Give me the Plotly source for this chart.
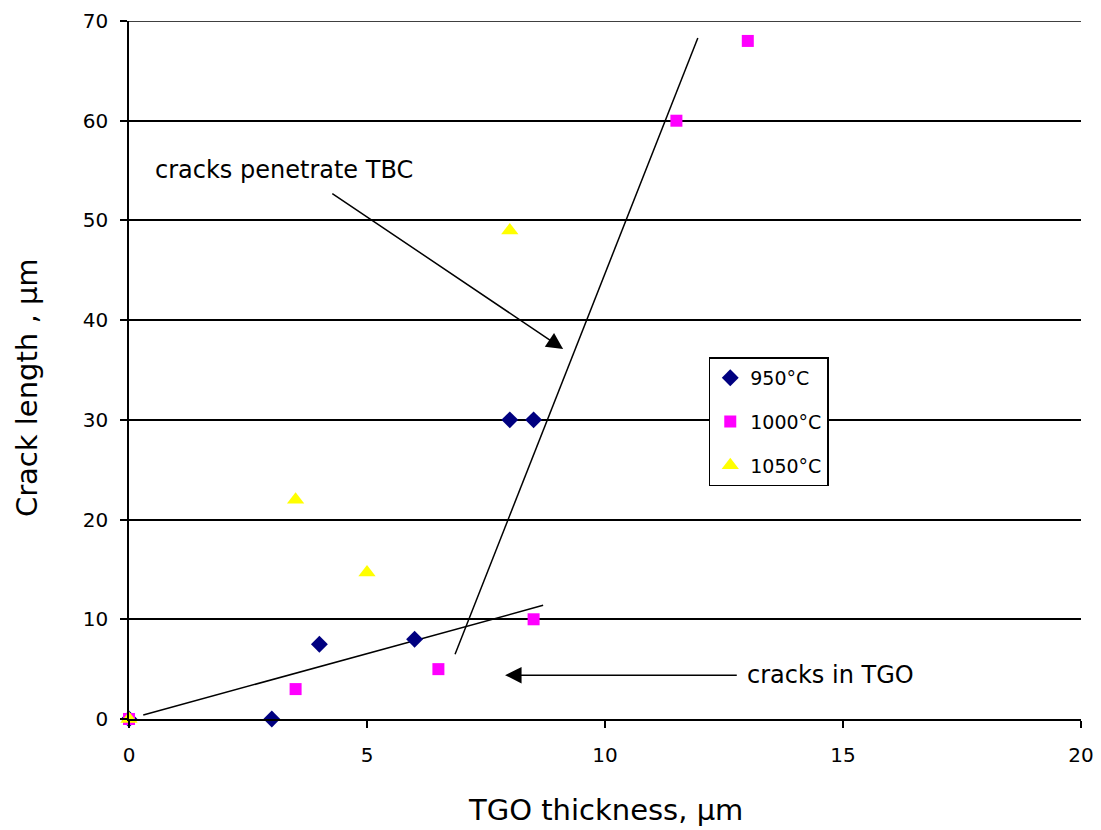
import plotly.graph_objects as go

# Crack length vs TGO thickness at three exposure temperatures
t950_x = [0, 3, 4, 6, 8, 8.5]
t950_y = [0, 0, 7.5, 8, 30, 30]

t1000_x = [0, 3.5, 6.5, 8.5, 11.5, 13]
t1000_y = [0, 3, 5, 10, 60, 68]

t1050_x = [0, 3.5, 5, 8]
t1050_y = [0, 22, 14.7, 49]

# Hand-fitted trend lines for the two cracking regimes
tgo_line_x = [0.3, 8.7]
tgo_line_y = [0.4, 11.4]
tbc_line_x = [6.85, 11.95]
tbc_line_y = [6.5, 68.3]

x_ticks = [0, 5, 10, 15, 20]
y_ticks = [0, 10, 20, 30, 40, 50, 60, 70]

FONT = "DejaVu Sans, Verdana, sans-serif"

fig = go.Figure()

fig.add_trace(go.Scatter(x=tgo_line_x, y=tgo_line_y, mode="lines",
                         line=dict(color="black", width=1.5), showlegend=False,
                         hoverinfo="skip"))
fig.add_trace(go.Scatter(x=tbc_line_x, y=tbc_line_y, mode="lines",
                         line=dict(color="black", width=1.5), showlegend=False,
                         hoverinfo="skip"))

fig.add_trace(go.Scatter(x=t950_x, y=t950_y, mode="markers", name="950°C",
                         legendgroup="a",
                         marker=dict(symbol="diamond", size=13, color="#000080")))
fig.add_trace(go.Scatter(x=t1000_x, y=t1000_y, mode="markers", name="1000°C",
                         legendgroup="b",
                         marker=dict(symbol="square", size=12, color="#FF00FF")))
fig.add_trace(go.Scatter(x=t1050_x, y=t1050_y, mode="markers", name="1050°C",
                         legendgroup="c",
                         marker=dict(symbol="triangle-up", size=15, color="#FFFF00")))

for tr in fig.data:
    tr.cliponaxis = False

# Top gridline at the upper end of the y range
fig.add_shape(type="line", xref="paper", yref="y", x0=0, x1=1, y0=70, y1=70,
              line=dict(color="black", width=1.5))

# Annotated arrows
fig.add_annotation(x=9.12, y=37.1, ax=4.24, ay=52.8, xref="x", yref="y",
                   axref="x", ayref="y", text="", showarrow=True,
                   arrowhead=2, arrowsize=2.2, arrowwidth=1.5, arrowcolor="black")
fig.add_annotation(x=0.5, y=55.1, xref="x", yref="y", text="cracks penetrate TBC",
                   showarrow=False, xanchor="left",
                   font=dict(family=FONT, size=24, color="black"))
fig.add_annotation(x=7.9, y=4.4, ax=12.8, ay=4.4, xref="x", yref="y",
                   axref="x", ayref="y", text="", showarrow=True,
                   arrowhead=2, arrowsize=2.2, arrowwidth=1.5, arrowcolor="black")
fig.add_annotation(x=12.95, y=4.4, xref="x", yref="y", text="cracks in TGO",
                   showarrow=False, xanchor="left",
                   font=dict(family=FONT, size=24, color="black"))

# Axis titles
fig.add_annotation(x=-0.107, y=33.2, xref="paper", yref="y", text="Crack length , µm",
                   showarrow=False, textangle=-90, xanchor="center", yanchor="middle",
                   font=dict(family=FONT, size=29, color="black"))
fig.add_annotation(x=0.5, y=-0.13, xref="paper", yref="paper", text="TGO thickness, µm",
                   showarrow=False, xanchor="center", yanchor="middle",
                   font=dict(family=FONT, size=29, color="black"))

fig.update_layout(
    width=1101, height=830,
    margin=dict(l=129, r=20, t=21, b=111, autoexpand=False),
    paper_bgcolor="white", plot_bgcolor="white",
    font=dict(family=FONT, color="black"),
    legend=dict(x=0.609, y=0.518, xanchor="left", yanchor="top",
                bgcolor="white", bordercolor="black", borderwidth=1.5,
                font=dict(family=FONT, size=19, color="black"),
                traceorder="grouped", tracegroupgap=16,
                itemsizing="trace"),
    xaxis=dict(range=[0, 20], tickvals=x_ticks, showgrid=False, zeroline=False,
               showline=True, linecolor="black", linewidth=1.5,
               ticks="outside", ticklen=7, tickcolor="black", tickwidth=1.5,
               tickfont=dict(size=20), ticklabelstandoff=10,
               ticklabeloverflow="allow", automargin=False),
    yaxis=dict(range=[0, 70], tickvals=y_ticks, showgrid=True, gridcolor="black",
               gridwidth=1.5, zeroline=False,
               showline=True, linecolor="black", linewidth=1.5,
               ticks="outside", ticklen=7, tickcolor="black", tickwidth=1.5,
               tickfont=dict(size=20), ticklabelstandoff=8,
               ticklabeloverflow="allow", automargin=False),
)

fig.write_html("out.html")
